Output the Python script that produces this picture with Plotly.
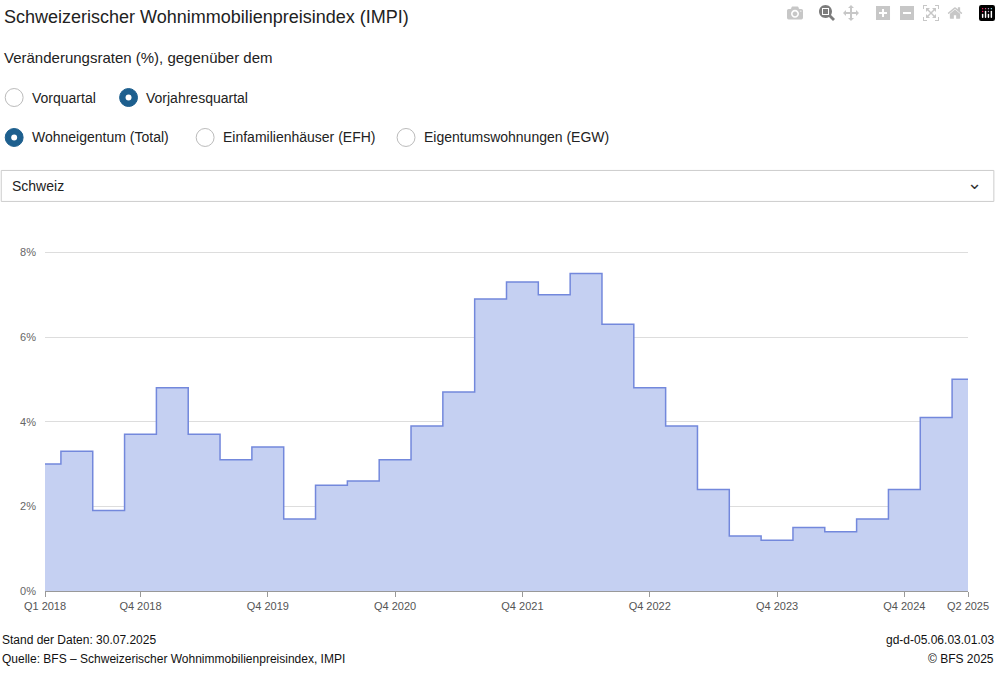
import plotly.graph_objects as go

quarters = [f"Q{q} {y}" for y in range(2018, 2026) for q in range(1, 5)][:30]
values = [3.0, 3.3, 1.9, 3.7, 4.8, 3.7, 3.1, 3.4, 1.7, 2.5, 2.6, 3.1, 3.9, 4.7, 6.9,
          7.3, 7.0, 7.5, 6.3, 4.8, 3.9, 2.4, 1.3, 1.2, 1.5, 1.4, 1.7, 2.4, 4.1, 5.0]
tick_labels = ["Q1 2018", "Q4 2018", "Q4 2019", "Q4 2020", "Q4 2021", "Q4 2022", "Q4 2023", "Q4 2024", "Q2 2025"]

FONT = "Liberation Sans, Arial, sans-serif"
L, R, T, B = 45, 973, 209.6, 591
W, H = 1001, 676

def px(x): return (x - L) / (R - L)
def py(y): return (B - y) / (B - T)

n = len(values)
step_x = [0] + [i + 0.5 for i in range(n - 1)] + [n - 1]
step_y = values + [values[-1]]

fig = go.Figure(go.Scatter(x=step_x, y=step_y, mode="lines", line_shape="hv",
                           line=dict(color="#7388dc", width=1.5), fill="tozeroy",
                           fillcolor="rgba(197,208,242,1)", hoverinfo="skip"))

tickvals = [quarters.index(t) for t in tick_labels]
fig.update_layout(
    width=W, height=H, margin=dict(l=L, r=W - R, t=T, b=H - B),
    plot_bgcolor="white", paper_bgcolor="white", showlegend=False,
    font=dict(family=FONT, color="#333"),
    xaxis=dict(range=[0, n - 1], tickvals=tickvals, ticktext=tick_labels, showgrid=False,
               ticks="outside", ticklen=5, tickcolor="#999", tickfont=dict(size=11, color="#555"),
               showline=False, zeroline=False),
    yaxis=dict(range=[0, 9], tickvals=[0, 2, 4, 6, 8], ticktext=["0%", "2%", "4%", "6%", "8%"],
               gridcolor="#dddddd", zeroline=True, zerolinecolor="#999", tickfont=dict(size=11, color="#666"),
               ticklabelstandoff=8),
)

ann = []
shapes = []
def text(x, y, s, size=14, xanchor="left", color="#222"):
    ann.append(dict(x=px(x), y=py(y), xref="paper", yref="paper", text=s, showarrow=False,
                    xanchor=xanchor, yanchor="middle", font=dict(size=size, color=color, family=FONT)))

text(2, 16, "Schweizerischer Wohnimmobilienpreisindex (IMPI)", 18)
text(2, 57, "Veränderungsraten (%), gegenüber dem", 15)

def radio(cx, cy, selected, label):
    r = 9
    if selected:
        shapes.append(dict(type="circle", xref="paper", yref="paper", x0=px(cx - r), x1=px(cx + r),
                           y0=py(cy + r), y1=py(cy - r), fillcolor="#1d5f8e", line=dict(color="#1d5f8e", width=1)))
        shapes.append(dict(type="circle", xref="paper", yref="paper", x0=px(cx - 3), x1=px(cx + 3),
                           y0=py(cy + 3), y1=py(cy - 3), fillcolor="white", line=dict(color="white", width=0)))
    else:
        shapes.append(dict(type="circle", xref="paper", yref="paper", x0=px(cx - r), x1=px(cx + r),
                           y0=py(cy + r), y1=py(cy - r), fillcolor="white", line=dict(color="#bbb", width=1)))
    text(cx + 16, cy, label, 14)

radio(14, 97, False, "Vorquartal")
radio(129, 97, True, "Vorjahresquartal")
radio(14, 137, True, "Wohneigentum (Total)")
radio(206, 137, False, "Einfamilienhäuser (EFH)")
radio(408, 137, False, "Eigentumswohnungen (EGW)")

shapes.append(dict(type="rect", xref="paper", yref="paper", x0=px(1), x1=px(999), y0=py(201), y1=py(170),
                   fillcolor="white", line=dict(color="#ccc", width=1)))
text(10, 186, "Schweiz", 14)
text(980, 183, "⌄", 18, "center", "#333")

text(0, 640, "Stand der Daten: 30.07.2025", 12, color="#111")
text(0, 659, "Quelle: BFS – Schweizerischer Wohnimmobilienpreisindex, IMPI", 12, color="#111")
text(1001, 640, "gd-d-05.06.03.01.03", 12, "right", "#111")
text(1001, 659, "© BFS 2025", 12, "right", "#111")

fig.update_layout(annotations=ann, shapes=shapes)
fig.write_html("out.html", post_script="document.body.style.margin='0';")
